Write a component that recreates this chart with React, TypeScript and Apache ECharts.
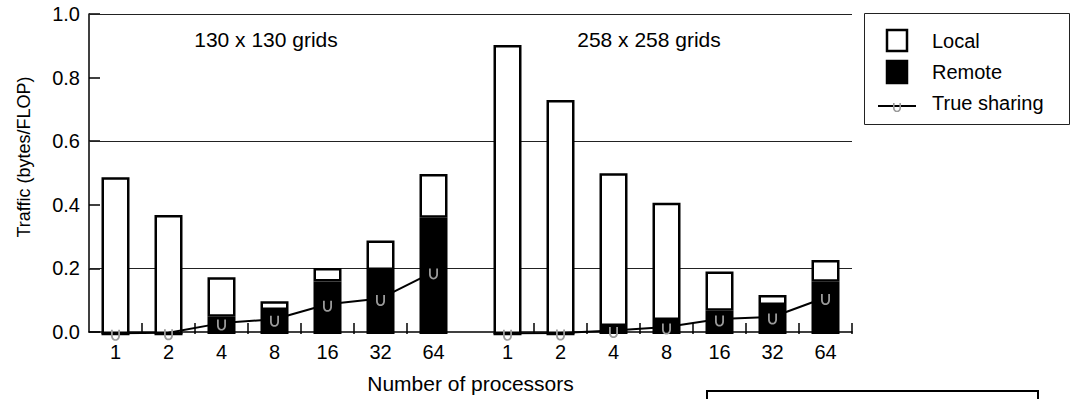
import React, { useEffect, useRef } from 'react';
import * as echarts from 'echarts';

const categories = ['1', '2', '4', '8', '16', '32', '64'];
const groupTitles = ['130 x 130 grids', '258 x 258 grids'];
const seriesNames = ['Local', 'Remote', 'True sharing'];

const local130 = [0.49, 0.372, 0.123, 0.027, 0.042, 0.092, 0.137];
const remote130 = [0, 0, 0.054, 0.075, 0.164, 0.2, 0.363];
const sharing130 = [0.002, 0.004, 0.034, 0.046, 0.093, 0.111, 0.194];

const local258 = [0.903, 0.731, 0.477, 0.366, 0.122, 0.031, 0.068];
const remote258 = [0, 0, 0.025, 0.044, 0.073, 0.091, 0.163];
const sharing258 = [0.002, 0.003, 0.011, 0.022, 0.047, 0.053, 0.114];

const yMin = 0;
const yMax = 1;
const yStep = 0.2;
const gridLineValues = [0.2, 0.6, 1.0];

const xAxisTitle = 'Number of processors';
const yAxisTitle = 'Traffic (bytes/FLOP)';

const FONT = 'Liberation Sans, Arial, Helvetica, sans-serif';
const UPSILON = 'M0,0 L2,0 L2,7 C2,9.5 3.5,11 5,11 C6.5,11 8,9.5 8,7 L8,0 L10,0 L10,7 C10,10.5 7.8,13 5,13 C2.2,13 0,10.5 0,7 Z';

let registered = false;
function ensureShape() {
  if (registered) return;
  echarts.graphic.registerShape('upsilon', echarts.graphic.extendPath(UPSILON, {}) as any);
  registered = true;
}

export default function App() {
  const ref = useRef<HTMLDivElement>(null);

  useEffect(() => {
    document.body.style.margin = '0';
    ensureShape();
    const chart = echarts.init(ref.current!, undefined, { renderer: 'svg' });

    const barStyle = (fill: string) => ({ color: fill, borderColor: '#000', borderWidth: 2.5 });
    const lineSeries = (data: number[], xi: number) => ({
      type: 'line',
      name: seriesNames[2],
      xAxisIndex: xi,
      yAxisIndex: xi,
      data,
      z: 4,
      symbol: 'path://' + UPSILON,
      symbolSize: [9, 11],
      symbolOffset: [0, 2],
      itemStyle: { color: '#9a9a9a' },
      lineStyle: { color: '#000', width: 2 },
      silent: true,
    });
    const bars = (local: number[], remote: number[], xi: number, stack: string) => [
      {
        type: 'bar', name: seriesNames[1], xAxisIndex: xi, yAxisIndex: xi, stack,
        data: remote, barWidth: 28, itemStyle: barStyle('#000'), z: 3, silent: true,
      },
      {
        type: 'bar', name: seriesNames[0], xAxisIndex: xi, yAxisIndex: xi, stack,
        data: local, barWidth: 28, itemStyle: barStyle('#fff'), z: 3, silent: true,
      },
    ];

    const xLabelStyle = { fontSize: 20, color: '#000', fontFamily: FONT };
    const yLabelStyle = { fontSize: 20, color: '#000', fontFamily: FONT };

    const option: any = {
      animation: false,
      grid: [
        { left: 89, top: 14, width: 763, height: 320 },
        { left: 89, top: 14, width: 371, height: 320 },
        { left: 481, top: 14, width: 371, height: 320 },
        { left: 142, top: 14, width: 265, height: 320 },
      ],
      xAxis: [
        {
          gridIndex: 0, type: 'value', min: 0, max: 1,
          axisLine: { show: true, lineStyle: { color: '#000', width: 1.5 } },
          axisTick: { show: false }, axisLabel: { show: false }, splitLine: { show: false },
          name: xAxisTitle, nameLocation: 'middle', nameGap: 41,
          nameTextStyle: { fontSize: 21, color: '#000', fontFamily: FONT },
        },
        {
          gridIndex: 1, type: 'category', data: categories,
          axisLine: { show: false }, axisTick: { show: false },
          axisLabel: { ...xLabelStyle, margin: 8, interval: 0 },
        },
        {
          gridIndex: 2, type: 'category', data: categories,
          axisLine: { show: false },
          axisTick: { show: true, inside: true, length: 11, interval: (i: number) => i > 0, lineStyle: { color: '#000', width: 1.5 } },
          axisLabel: { ...xLabelStyle, margin: 8, interval: 0 },
        },
        {
          gridIndex: 3, type: 'category', data: categories.slice(1), boundaryGap: false,
          axisLine: { show: false },
          axisTick: { show: true, inside: true, length: 11, interval: 0, lineStyle: { color: '#000', width: 1.5 } },
          axisLabel: { show: false },
        },
      ],
      yAxis: [
        {
          gridIndex: 0, type: 'value', min: yMin, max: yMax, interval: yStep,
          axisLine: { show: true, lineStyle: { color: '#000', width: 1.5 } },
          axisTick: { show: true, inside: true, length: 11, lineStyle: { color: '#000', width: 1.5 } },
          axisLabel: { ...yLabelStyle, margin: 9, formatter: (v: number) => v.toFixed(1) },
          splitLine: { show: false },
        },
        { gridIndex: 1, type: 'value', min: yMin, max: yMax, show: false },
        { gridIndex: 2, type: 'value', min: yMin, max: yMax, show: false },
        { gridIndex: 3, type: 'value', min: yMin, max: yMax, show: false },
      ],
      series: [
        {
          type: 'line', xAxisIndex: 0, yAxisIndex: 0, data: [], silent: true,
          markLine: {
            silent: true, z: 1, symbol: ['none', 'none'], label: { show: false },
            lineStyle: { color: '#222', width: 1.2, type: 'solid' },
            emphasis: { disabled: true },
            data: gridLineValues.map((v) => [{ coord: [0, v] }, { coord: [1, v] }]),
          },
        },
        ...bars(local130, remote130, 1, 'g130'),
        lineSeries(sharing130, 1),
        ...bars(local258, remote258, 2, 'g258'),
        lineSeries(sharing258, 2),
      ],
      graphic: [
        {
          type: 'text', x: 266, y: 39,
          style: { text: groupTitles[0], fontSize: 21, fontFamily: FONT, fill: '#000', align: 'center', verticalAlign: 'middle' },
        },
        {
          type: 'text', x: 649, y: 39,
          style: { text: groupTitles[1], fontSize: 21, fontFamily: FONT, fill: '#000', align: 'center', verticalAlign: 'middle' },
        },
        {
          type: 'text', x: 24, y: 157, rotation: Math.PI / 2,
          style: { text: yAxisTitle, fontSize: 18, fontFamily: FONT, fill: '#000', align: 'center', verticalAlign: 'middle' },
        },
        // legend box
        {
          type: 'rect', shape: { x: 864.5, y: 13.5, width: 205, height: 111 },
          style: { fill: '#fff', stroke: '#222', lineWidth: 1 },
        },
        {
          type: 'rect', shape: { x: 887, y: 30, width: 20, height: 21 },
          style: { fill: '#fff', stroke: '#000', lineWidth: 2.5 },
        },
        {
          type: 'rect', shape: { x: 887, y: 61, width: 20, height: 22 },
          style: { fill: '#000', stroke: '#000', lineWidth: 2.5 },
        },
        {
          type: 'line', shape: { x1: 878, y1: 106, x2: 916, y2: 106 },
          style: { stroke: '#000', lineWidth: 2 },
        },
        {
          type: 'upsilon', x: 893, y: 103, scaleX: 0.8, scaleY: 0.7,
          style: { fill: '#9a9a9a' },
        },
        {
          type: 'text', x: 932, y: 41,
          style: { text: seriesNames[0], fontSize: 20, fontFamily: FONT, fill: '#000', align: 'left', verticalAlign: 'middle' },
        },
        {
          type: 'text', x: 932, y: 72,
          style: { text: seriesNames[1], fontSize: 20, fontFamily: FONT, fill: '#000', align: 'left', verticalAlign: 'middle' },
        },
        {
          type: 'text', x: 932, y: 103,
          style: { text: seriesNames[2], fontSize: 20, fontFamily: FONT, fill: '#000', align: 'left', verticalAlign: 'middle' },
        },
        // box at bottom right
        {
          type: 'rect', shape: { x: 707, y: 391, width: 331, height: 30 },
          style: { fill: 'none', stroke: '#000', lineWidth: 2 },
        },
      ],
    };

    chart.setOption(option);
    return () => chart.dispose();
  }, []);

  return <div ref={ref} style={{ width: 1073, height: 399, overflow: 'hidden' }} />;
}
